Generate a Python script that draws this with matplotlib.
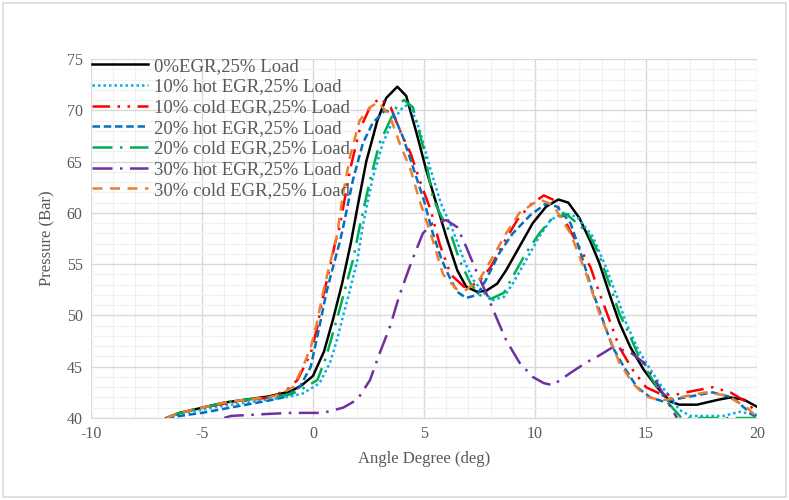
import matplotlib.pyplot as plt
from matplotlib.patches import Rectangle
from matplotlib.ticker import MultipleLocator

# Pressure vs crank angle
x_0 = [-6.6, -6, -5, -4, -3, -2, -1, -0.5, 0, 0.5, 0.9, 1.3, 1.7, 2.0, 2.4, 2.9, 3.3, 3.8,
       4.2, 4.7, 5.1, 5.6, 6.0, 6.5, 6.9, 7.4, 7.8, 8.3, 8.7, 9.3, 9.9, 10.5, 11.05, 11.5,
       12.0, 12.5, 12.9, 13.4, 13.8, 14.3, 14.9, 15.5, 16.1, 16.5, 17.3, 18.3, 18.8, 19.4, 20]
p_0 = [40, 40.5, 41.0, 41.5, 41.8, 42.1, 42.6, 43.2, 44.1, 46.5, 49.6, 53.0, 57.0, 60.5, 65.0,
       69.0, 71.2, 72.3, 71.4, 67.5, 64.2, 60.6, 57.7, 54.4, 52.8, 52.3, 52.4, 53.1, 54.4,
       56.7, 59.0, 60.6, 61.3, 61.0, 59.5, 57.2, 55.1, 51.8, 49.3, 46.9, 44.7, 43.0, 41.6,
       41.3, 41.3, 41.8, 42.0, 41.8, 41.1]

x_10h = [-6.6, -6, -5, -4, -3, -2, -1, -0.45, 0.3, 0.77, 1.08, 1.35, 1.67, 2.0, 2.25, 2.7,
         3.15, 3.6, 4.05, 4.35, 4.8, 5.3, 5.75, 6.3, 6.8, 7.2, 7.7, 8.1, 8.6, 9.0, 9.6, 10.2,
         10.7, 11.3, 11.9, 12.6, 13.2, 13.7, 14.1, 14.6, 15.0, 15.6, 16.2, 16.5, 17.0, 18.5,
         19.2, 20]
p_10h = [40, 40.4, 40.8, 41.2, 41.5, 41.8, 42.1, 42.4, 43.4, 45.4, 47.6, 49.9, 52.5, 55.4,
         58.8, 63.5, 66.8, 69.0, 70.3, 70.6, 68.1, 64.2, 61.0, 58.3, 55.4, 53.5, 52.2, 51.5,
         51.8, 53.1, 55.4, 57.7, 59.3, 60.0, 59.6, 57.7, 54.7, 51.8, 49.3, 46.9, 45.4, 43.4,
         41.7, 40.8, 40.2, 40.2, 40.6, 40.3]

x_10c = [-6.6, -6, -5, -4, -3, -2, -1.2, -0.7, -0.1, 0.2, 0.45, 0.77, 1.0, 1.2, 1.67, 2.1,
         2.57, 3.0, 3.5, 3.9, 4.4, 4.8, 5.3, 5.7, 6.2, 6.8, 7.4, 8.0, 8.6, 9.2, 9.8, 10.4,
         10.9, 11.6, 12.5, 12.9, 13.4, 13.8, 14.4, 15.0, 15.6, 16.2, 16.8, 18.0, 18.8, 19.5, 20]
p_10c = [40, 40.5, 41.0, 41.4, 41.7, 42.0, 42.7, 43.7, 46.3, 48.9, 51.8, 54.7, 57.1, 58.6,
         64.2, 68.1, 70.3, 71.2, 70.3, 68.1, 65.8, 63.2, 60.3, 57.0, 54.0, 52.8, 53.1, 54.7,
         57.1, 59.3, 60.8, 61.7, 61.2, 58.2, 54.7, 52.2, 49.3, 46.9, 44.7, 43.0, 42.4, 42.2,
         42.5, 43.0, 42.5, 41.6, 40.5]

x_20h = [-6.6, -6, -5, -4, -3, -2, -1.35, -0.6, -0.1, 0.3, 0.6, 0.9, 1.2, 1.35, 1.8, 2.25,
         2.7, 3.25, 3.6, 4.05, 4.5, 5.0, 5.4, 5.8, 6.2, 6.5, 6.9, 7.4, 7.8, 8.4, 9.0, 9.8,
         10.5, 11.0, 11.6, 12.0, 12.6, 13.1, 13.5, 14.0, 14.6, 15.2, 15.8, 16.5, 18.0, 18.9,
         19.8, 20]
p_20h = [40, 40.2, 40.5, 40.9, 41.3, 41.7, 42.0, 43.0, 45.0, 49.0, 52.2, 54.7, 57.1, 58.5,
         63.2, 66.8, 68.8, 70.0, 69.7, 67.4, 64.5, 61.2, 58.0, 55.4, 53.5, 52.3, 51.7, 52.0,
         53.5, 56.1, 58.0, 59.8, 60.9, 60.6, 59.0, 56.5, 52.3, 49.3, 46.9, 45.0, 43.0, 42.0,
         41.6, 41.9, 42.5, 42.0, 40.3, 40.1]

x_20c = [-6.6, -6, -5, -4, -3, -2, -1, -0.6, 0.2, 0.6, 0.9, 1.2, 1.5, 1.8, 2.1, 2.57, 3.0,
         3.47, 3.8, 4.1, 4.5, 5.0, 5.4, 5.7, 6.2, 6.6, 7.1, 7.5, 8.0, 8.6, 9.0, 9.6, 10.2,
         10.7, 11.4, 12.0, 12.4, 12.8, 13.4, 13.8, 14.3, 14.7, 15.3, 15.9, 16.4, 16.6, 20]
p_20c = [40, 40.5, 41.0, 41.5, 41.8, 42.0, 42.3, 42.7, 43.7, 46.0, 48.3, 50.6, 53.0, 55.4,
         58.6, 63.2, 66.8, 69.0, 70.5, 71.0, 70.3, 66.1, 61.5, 60.0, 58.0, 55.4, 53.1, 52.0,
         51.6, 52.2, 53.8, 56.1, 58.0, 59.3, 59.9, 58.8, 58.0, 56.4, 52.8, 50.2, 47.9, 45.9,
         43.7, 41.7, 40.5, 40.0, 40.0]

x_30h = [-4.0, -3.7, -2, -1, 0.45, 1.35, 2.0, 2.57, 3.0, 3.47, 3.9, 4.45, 4.95, 5.4, 6.0,
         6.5, 6.9, 7.4, 7.8, 8.3, 8.7, 9.3, 9.9, 10.4, 10.8, 11.6, 12.3, 12.9, 13.5, 14.3,
         14.9, 15.5, 16.1, 16.4]
p_30h = [40.0, 40.2, 40.4, 40.5, 40.5, 41.0, 41.8, 43.7, 46.3, 48.9, 52.0, 55.3, 58.0, 59.0,
         59.3, 58.6, 56.7, 54.1, 52.2, 49.6, 47.6, 45.4, 44.0, 43.4, 43.2, 44.4, 45.4, 46.1,
         46.9, 46.4, 45.4, 43.4, 41.1, 40.0]

x_30c = [-6.6, -6, -5, -4, -3, -2, -1.5, -0.9, -0.45, -0.1, 0.18, 0.45, 0.77, 1.08, 1.35,
         1.67, 2.1, 2.57, 2.95, 3.47, 3.9, 4.4, 4.8, 5.3, 5.86, 6.5, 6.9, 7.5, 8.1, 8.7, 9.3,
         10.2, 10.8, 11.6, 12.3, 12.9, 13.4, 13.8, 14.4, 15.0, 15.7, 16.5, 17.7, 18.6, 19.5, 20]
p_30c = [40, 40.5, 41.0, 41.5, 41.8, 42.0, 42.3, 43.0, 45.0, 46.9, 49.3, 52.2, 55.1, 57.8,
         61.8, 65.5, 69.0, 70.3, 70.8, 69.4, 66.8, 64.2, 61.2, 58.0, 54.0, 52.5, 52.5, 53.5,
         55.7, 58.0, 60.0, 61.3, 60.8, 58.0, 54.1, 50.2, 47.6, 45.4, 43.4, 42.1, 41.7, 42.0,
         42.5, 42.2, 41.1, 40.1]

series = [
    ("0%EGR,25% Load", x_0, p_0, "black", "-", 1.8),
    ("10% hot EGR,25% Load", x_10h, p_10h, "#00B0F0", (0, (1, 1.2)), 1.8),
    ("10% cold EGR,25% Load", x_10c, p_10c, "#FF0000", (0, (7, 3, 1, 3, 1, 3)), 1.8),
    ("20% hot EGR,25% Load", x_20h, p_20h, "#0070C0", (0, (3, 1.5)), 1.8),
    ("20% cold EGR,25% Load", x_20c, p_20c, "#00B050", (0, (8, 3, 1, 3)), 1.8),
    ("30% hot EGR,25% Load", x_30h, p_30h, "#7030A0", (0, (8, 3, 1, 3)), 1.8),
    ("30% cold EGR,25% Load", x_30c, p_30c, "#ED7D31", (0, (4, 3)), 1.8),
]

plt.rcParams['font.family'] = ['Liberation Serif', 'DejaVu Serif']
plt.rcParams['axes.unicode_minus'] = False

fig = plt.figure(figsize=(7.89, 5.0), dpi=100)
fig.patches.append(Rectangle((0.004, 0.006), 0.992, 0.988, transform=fig.transFigure,
                             fill=False, edgecolor="#D9D9D9", linewidth=1.2))
ax = fig.add_axes([0.1153, 0.164, 0.8441, 0.718])

for label, xs, ys, color, ls, lw in series:
    ax.plot(xs, ys, color=color, linestyle=ls, linewidth=lw, label=label)

ax.set_xlim(-10, 20)
ax.set_ylim(40, 75)
ax.xaxis.set_major_locator(MultipleLocator(5))
ax.xaxis.set_minor_locator(MultipleLocator(1))
ax.yaxis.set_major_locator(MultipleLocator(5))
ax.yaxis.set_minor_locator(MultipleLocator(1))
ax.grid(which="major", color="#D9D9D9", linewidth=1.0)
ax.grid(which="minor", color="#F0F0F0", linewidth=0.8)
ax.set_axisbelow(True)
for side in ["top", "right", "left"]:
    ax.spines[side].set_visible(False)
ax.spines["bottom"].set_color("#D9D9D9")
ax.tick_params(which="both", length=0, labelsize=11.5, labelcolor="#595959", pad=6)

ax.set_xlabel("Angle Degree (deg)", fontsize=12, color="#595959", labelpad=6)
ax.set_ylabel("Pressure (Bar)", fontsize=12, color="#595959", labelpad=8)

leg = ax.legend(loc="upper left", bbox_to_anchor=(-0.015, 1.035), frameon=False,
                fontsize=13.5, handlelength=3.0, handletextpad=0.3, labelspacing=0.19,
                borderaxespad=0.2)
for t in leg.get_texts():
    t.set_color("#595959")

fig.savefig("out.png", dpi=100)
